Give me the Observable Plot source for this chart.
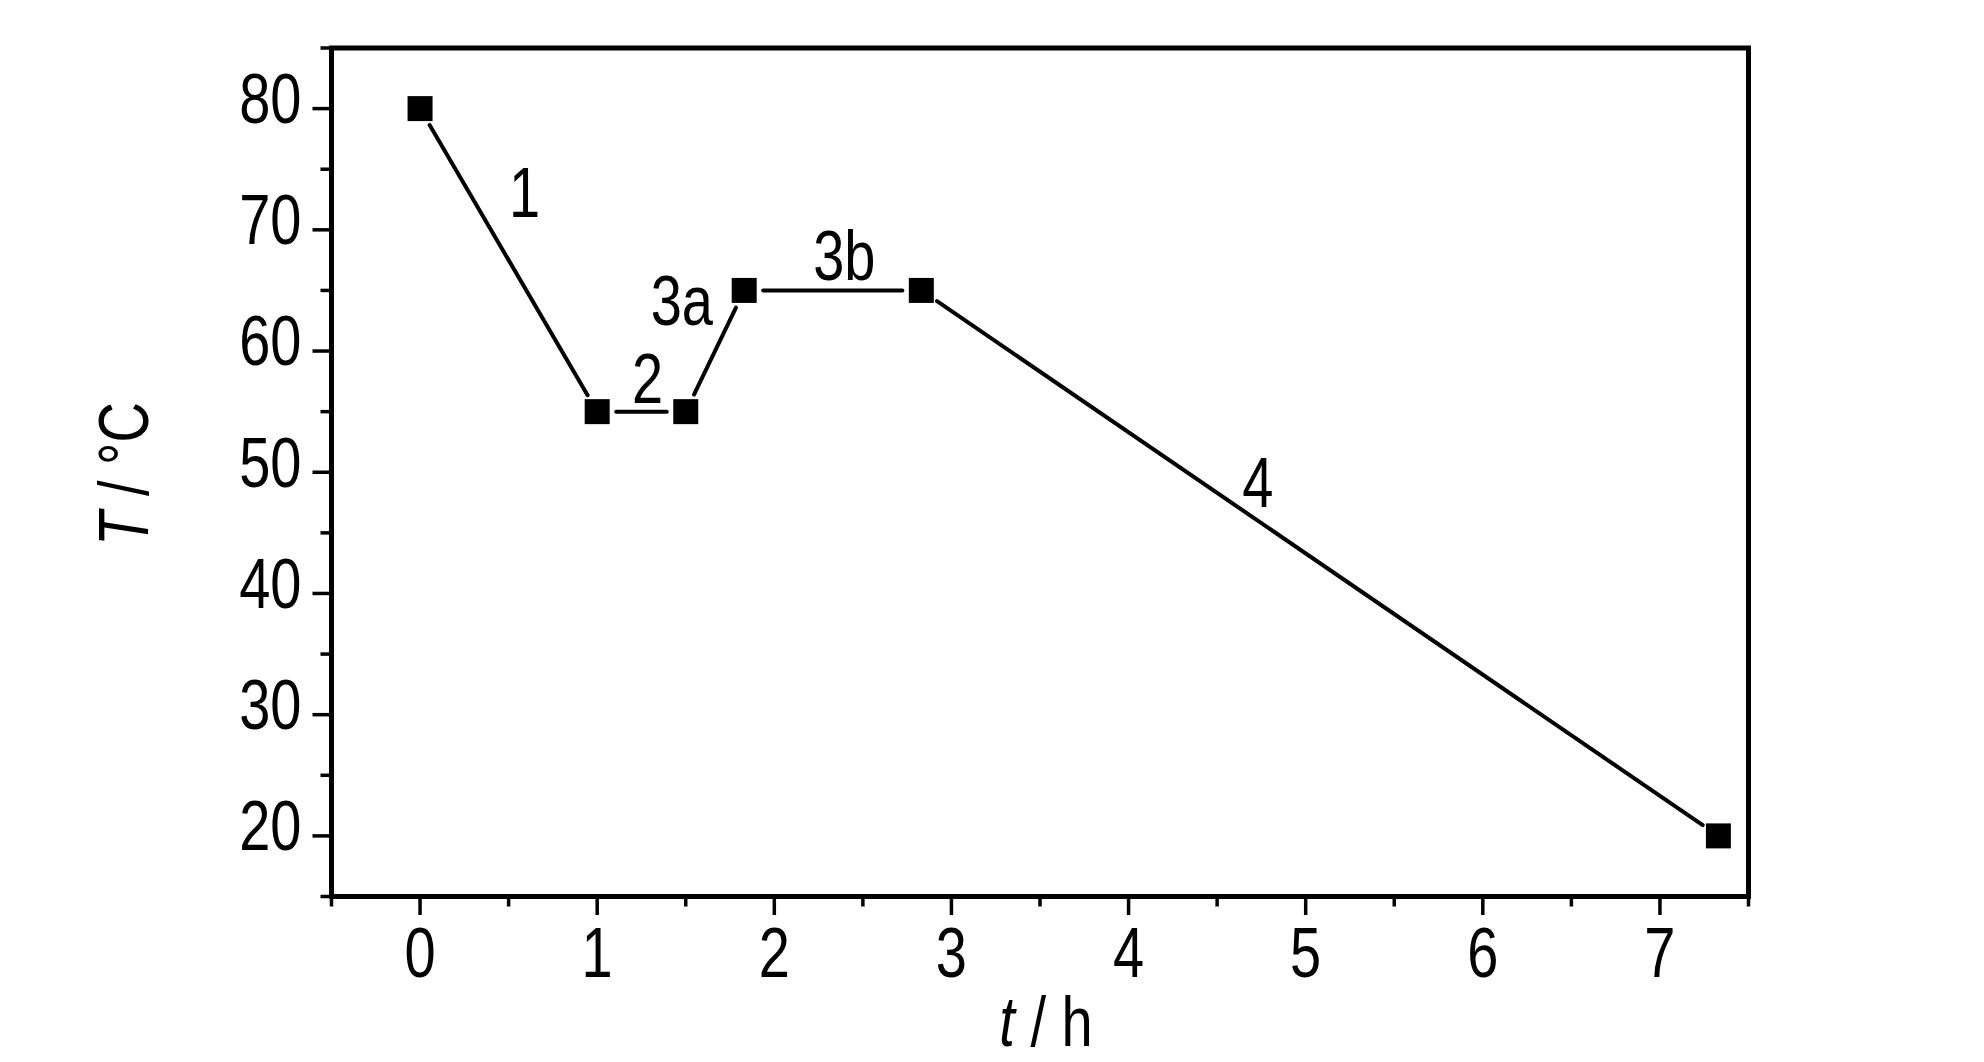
<!DOCTYPE html>
<html><head><meta charset="utf-8">
<script src="https://cdn.jsdelivr.net/npm/d3@7"></script>
<script src="https://cdn.jsdelivr.net/npm/@observablehq/plot@0.6"></script>
<style>body{margin:0;background:#fff}</style>
</head><body><div id="chart"></div>
<script>
// data
const times = [0, 1, 1.5, 1.83, 2.83, 7.33];
const temps = [80, 55, 55, 65, 65, 20];
const segLabels = ["1", "2", "3a", "3b", "4"];
const labelX = [0.59, 1.285, 1.478, 2.395, 4.73];
const labelY = [72.9, 57.6, 63.96, 67.7, 48.98];
const xMajor = [0, 1, 2, 3, 4, 5, 6, 7];
const xMinor = [-0.5, 0.5, 1.5, 2.5, 3.5, 4.5, 5.5, 6.5, 7.5];
const yMajor = [20, 30, 40, 50, 60, 70, 80];
const yMinor = [15, 25, 35, 45, 55, 65, 75, 85];

const FONT = "'Liberation Sans',Arial,sans-serif";
const FS = 70;
const pts = times.map((t, i) => ({t, T: temps[i]}));
const segs = d3.range(times.length - 1).map(i => ({x1: times[i], y1: temps[i], x2: times[i + 1], y2: temps[i + 1]}));
const labs = segLabels.map((s, i) => ({s, x: labelX[i], y: labelY[i]}));

const chart = Plot.plot({
  width: 1984, height: 1062,
  marginLeft: 331, marginRight: 236, marginTop: 47.5, marginBottom: 166,
  style: {fontFamily: FONT, fontSize: FS + "px", background: "#fff", color: "#000"},
  x: {domain: [-0.5, 7.5]},
  y: {domain: [15, 85]},
  marks: [
    Plot.axisX({ticks: xMajor, tickSize: 19, strokeWidth: 3.5, tickFormat: () => "", label: null}),
    Plot.axisX({ticks: xMinor, tickSize: 10.5, strokeWidth: 3.5, tickFormat: () => "", label: null}),
    Plot.axisY({ticks: yMajor, tickSize: 18.5, strokeWidth: 3.5, tickFormat: () => "", label: null}),
    Plot.axisY({ticks: yMinor, tickSize: 10.5, strokeWidth: 3.5, tickFormat: () => "", label: null}),
    Plot.text(xMajor, {x: d => d, frameAnchor: "bottom", lineAnchor: "top", dy: 31, text: d => String(d), fontSize: FS, fill: "#000"}),
    Plot.text(yMajor, {y: d => d, frameAnchor: "left", textAnchor: "end", dx: -30, dy: -8, text: d => String(d), fontSize: FS, fill: "#000"}),
    Plot.frame({stroke: "#000", strokeWidth: 5}),
    Plot.arrow(segs, {x1: "x1", y1: "y1", x2: "x2", y2: "y2", headLength: 0, insetStart: 19, insetEnd: 19, stroke: "#000", strokeWidth: 4}),
    Plot.dot(pts, {x: "t", y: "T", symbol: "square", r: 14.1, fill: "#000", stroke: null}),
    Plot.text(labs, {x: "x", y: "y", text: "s", fontSize: FS, fill: "#000"})
  ]
});
document.getElementById("chart").appendChild(chart);

const svg = d3.select(chart);
const xl = svg.append("text").attr("x", 1046).attr("y", 1046).attr("text-anchor", "middle")
  .attr("font-family", FONT).attr("font-size", FS).attr("fill", "#000");
xl.append("tspan").attr("font-style", "italic").text("t");
xl.append("tspan").text(" / h");
const yl = svg.append("text").attr("transform", "translate(148,474) rotate(-90)").attr("text-anchor", "middle")
  .attr("font-family", FONT).attr("font-size", FS).attr("fill", "#000");
yl.append("tspan").attr("font-style", "italic").text("T");
yl.append("tspan").text(" / °C");

// condense all text (narrow font look)
svg.selectAll("text").each(function() {
  const len = this.getComputedTextLength();
  if (len > 0) {
    this.setAttribute("textLength", (len * 0.8).toFixed(2));
    this.setAttribute("lengthAdjust", "spacingAndGlyphs");
  }
});
</script>
</body></html>
